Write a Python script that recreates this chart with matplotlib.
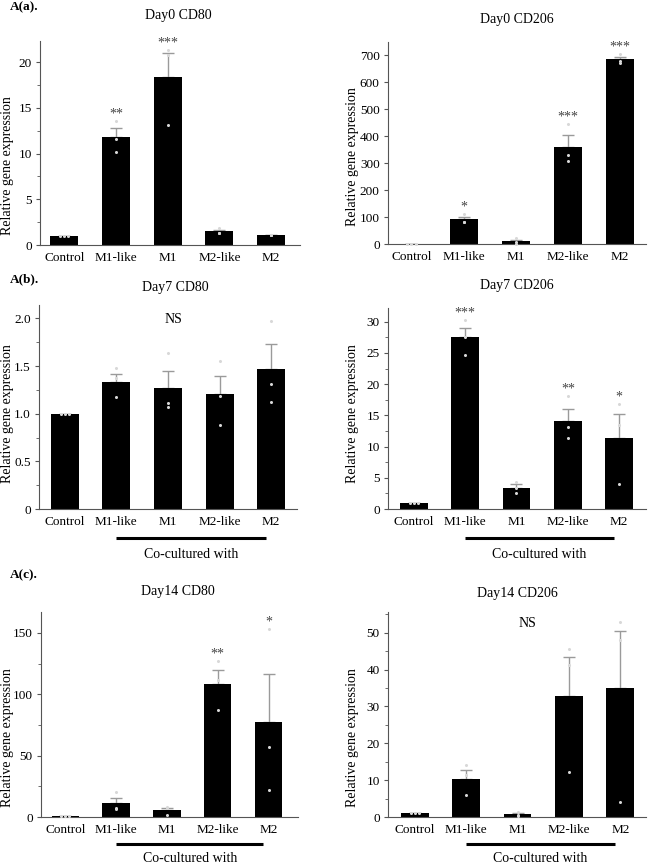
import numpy as np
import matplotlib
matplotlib.use("Agg")
import matplotlib.pyplot as plt
from matplotlib.ticker import MultipleLocator, FuncFormatter
from matplotlib.transforms import blended_transform_factory, ScaledTranslation

plt.rcParams['font.family'] = ['Liberation Serif', 'DejaVu Serif']

groups = ['Control', 'M1-like', 'M1', 'M2-like', 'M2']

# Day0
d0_cd80_mean = [1.0, 11.8, 18.4, 1.5, 1.1]
d0_cd80_sem = [0.02, 1.0, 2.6, 0.15, 0.03]
d0_cd80_pts = [[1.0, 1.0, 1.0], [13.6, 11.6, 10.2], [21.3, 20.8, 13.1], [1.86, 1.35, 1.3], [1.1, 1.1, 1.1]]
d0_cd80_sig = ['', '**', '***', '', '']

d0_cd206_mean = [1.0, 92.6, 10.0, 361, 686]
d0_cd206_sem = [0.3, 6.0, 5.0, 43, 9]
d0_cd206_pts = [[1, 1, 1], [113, 82, 82], [22, 8, 0], [444, 331, 310], [707, 673, 678]]
d0_cd206_sig = ['', '*', '', '***', '***']

# Day7
d7_cd80_mean = [1.0, 1.335, 1.27, 1.205, 1.464]
d7_cd80_sem = [0.0, 0.085, 0.18, 0.195, 0.263]
d7_cd80_pts = [[1, 1, 1], [1.475, 1.37, 1.17], [1.64, 1.11, 1.07], [1.55, 1.19, 0.876], [1.97, 1.31, 1.12]]
d7_cd80_sig = ['', '', '', '', '']

d7_cd206_mean = [1.0, 27.5, 3.4, 14.1, 11.35]
d7_cd206_sem = [0.0, 1.5, 0.65, 2.0, 3.85]
d7_cd206_pts = [[1, 1, 1], [30.3, 27.5, 24.7], [4.4, 3.3, 2.5], [18.1, 13.1, 11.3], [16.8, 13.4, 4.05]]
d7_cd206_sig = ['', '***', '', '**', '*']

# Day14
d14_cd80_mean = [1.0, 11.4, 6.0, 108.5, 77.3]
d14_cd80_sem = [0.1, 4.1, 1.6, 11.4, 39.3]
d14_cd80_pts = [[1, 1, 1], [20.3, 7.7, 6.2], [8.5, 7.6, 1.9], [126.9, 111.5, 87.3], [153.2, 56.8, 22.2]]
d14_cd80_sig = ['', '', '', '**', '*']

d14_cd206_mean = [1.0, 10.4, 0.7, 32.9, 35.0]
d14_cd206_sem = [0.05, 2.3, 0.4, 10.5, 15.5]
d14_cd206_pts = [[1, 1, 1], [14.0, 11.3, 6.0], [1.3, 0.6, 0.2], [45.5, 41.2, 12.3], [52.9, 47.9, 4.0]]
d14_cd206_sig = ['', '', '', '', '']

W, H = 668, 865
fig = plt.figure(figsize=(W / 100, H / 100), dpi=100)


def px_axes(x0, y0, x1, y1):
    return [x0 / W, 1 - y1 / H, (x1 - x0) / W, (y1 - y0) / H]


def make_fmt(major):
    def fmt(v, pos):
        if abs(v) < 1e-9:
            return '0'
        if major < 1:
            return f'{v:.1f}'
        return f'{int(round(v))}'
    return FuncFormatter(fmt)


def panel(box, title, title_xy, ylab_xy, mean, sem, pts, sig, ylim, major, xlim,
          ns_xy=None, cocult=None, minor=True):
    ax = fig.add_axes(px_axes(*box))
    x = np.arange(len(groups))
    ax.bar(x, mean, width=0.54, color='black', zorder=2)
    ax.errorbar(x, mean, yerr=[np.zeros(len(sem)), sem], fmt='none',
                ecolor='#9a9a9a', elinewidth=1.0, capsize=4.5, capthick=1.0, zorder=1)
    for i, p in enumerate(pts):
        offs = [-0.08, 0, 0.08] if i == 0 else [0, 0, 0]
        ax.plot(np.array(offs) + i, p, 'o', ms=2.2, color='#d8d8d8', mec='none',
                zorder=3, clip_on=False)
    for i, s in enumerate(sig):
        if s:
            top = max(max(pts[i]), mean[i] + sem[i])
            ax.annotate(s, (i, top), xytext=(0, 2.5), textcoords='offset points',
                        ha='center', va='baseline', fontsize=10, color='#444444')
    if ns_xy:
        ax.text(ns_xy[0], ns_xy[1], 'NS', ha='center', va='center', fontsize=10)
    ax.set_xlim(*xlim)
    ax.set_ylim(0, ylim)
    ax.yaxis.set_major_locator(MultipleLocator(major))
    ax.yaxis.set_major_formatter(make_fmt(major))
    if minor:
        ax.yaxis.set_minor_locator(MultipleLocator(major / 2))
    ax.set_xticks(x)
    ax.set_xticklabels(groups)
    for s in ['top', 'right']:
        ax.spines[s].set_visible(False)
    for s in ['left', 'bottom']:
        ax.spines[s].set_color('#555555')
        ax.spines[s].set_linewidth(0.8)
    ax.tick_params(axis='x', length=0, pad=5, labelsize=9.5)
    ax.tick_params(axis='y', which='major', length=3, width=0.8, color='#555555',
                   pad=3, labelsize=9.5)
    ax.tick_params(axis='y', which='minor', length=2, width=0.6, color='#555555')
    fig.text(title_xy[0] / W, 1 - title_xy[1] / H, title, ha='center', va='center',
             fontsize=10)
    fig.text(ylab_xy[0] / W, 1 - ylab_xy[1] / H, 'Relative gene expression',
             rotation=90, ha='center', va='center', fontsize=10)
    if cocult:
        line_off, text_off = cocult
        tr = blended_transform_factory(ax.transData, ax.transAxes)
        line_tr = tr + ScaledTranslation(0, -line_off / 100, fig.dpi_scale_trans)
        ax.plot([1.0, 3.9], [0, 0], color='black', lw=2.2, transform=line_tr,
                clip_on=False, solid_capstyle='butt')
        text_tr = tr + ScaledTranslation(0, -text_off / 100, fig.dpi_scale_trans)
        ax.text(2.45, 0, 'Co-cultured with', transform=text_tr, ha='center',
                va='center', fontsize=10)
    return ax


panel((40, 41, 300, 245), 'Day0 CD80', (178, 16), (8, 166),
      d0_cd80_mean, d0_cd80_sem, d0_cd80_pts, d0_cd80_sig, 22.3, 5, (-0.47, 4.56))
panel((388, 42, 646, 244), 'Day0 CD206', (517, 20), (352, 157),
      d0_cd206_mean, d0_cd206_sem, d0_cd206_pts, d0_cd206_sig, 750, 100, (-0.45, 4.5),
      minor=False)
panel((39, 305, 297, 509), 'Day7 CD80', (175, 288), (8, 414),
      d7_cd80_mean, d7_cd80_sem, d7_cd80_pts, d7_cd80_sig, 2.14, 0.5, (-0.5, 4.5),
      ns_xy=(2.11, 1.99), cocult=(29, 46))
panel((388, 308, 646, 509), 'Day7 CD206', (517, 285), (352, 414),
      d7_cd206_mean, d7_cd206_sem, d7_cd206_pts, d7_cd206_sig, 32.2, 5, (-0.5, 4.52),
      cocult=(29, 46))
panel((41, 612, 298, 817), 'Day14 CD80', (178, 592), (8, 738),
      d14_cd80_mean, d14_cd80_sem, d14_cd80_pts, d14_cd80_sig, 167, 50, (-0.48, 4.58),
      cocult=(27, 42))
panel((388, 612, 646, 817), 'Day14 CD206', (517, 593), (352, 738),
      d14_cd206_mean, d14_cd206_sem, d14_cd206_pts, d14_cd206_sig, 55.6, 10, (-0.52, 4.5),
      ns_xy=(2.19, 52.4), cocult=(27, 42))

for lab, y in [('A(a).', 7), ('A(b).', 279), ('A(c).', 575)]:
    fig.text(10 / W, 1 - y / H, lab, ha='left', va='center', fontsize=9.5,
             fontweight='bold')

fig.savefig('out.png', dpi=100)
plt.close(fig)
